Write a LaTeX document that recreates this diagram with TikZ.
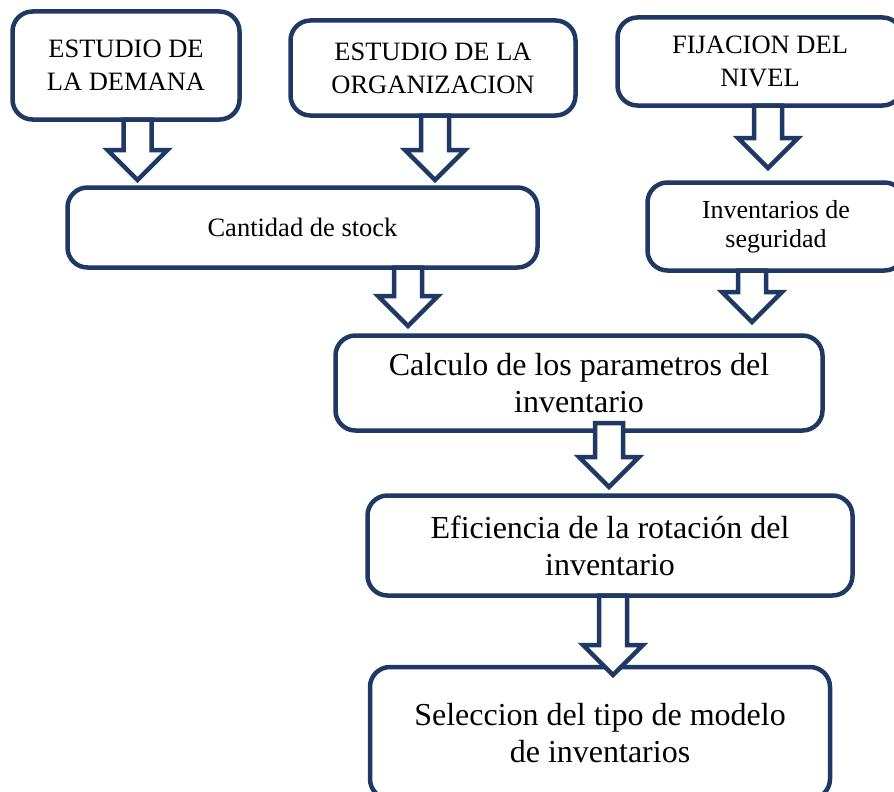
\documentclass[tikz,border=0pt]{standalone}
\usepackage{fontspec}
\setmainfont{Liberation Serif}
\usetikzlibrary{calc}
\definecolor{navy}{RGB}{31,56,100}
\tikzset{
    box/.style={draw=navy, line width=4.5pt, rounded corners=20pt, fill=white, align=center, inner sep=0pt, outer sep=0pt},
    smalltext/.style={font=\fontsize{26.5}{33}\selectfont},
    bigtext/.style={font=\fontsize{32}{37}\selectfont},
    blockarrow/.style={draw=navy, line width=4.5pt, fill=white, line join=miter,
        to path={let \p1=(\tikztostart), \p2=(\tikztotarget) in
            (\x1-14pt,\y1) -- (\x1-14pt,\y2+30pt) -- (\x1-30pt,\y2+30pt) -- (\x1,\y2)
            -- (\x1+30pt,\y2+30pt) -- (\x1+14pt,\y2+30pt) -- (\x1+14pt,\y1) -- cycle}}
}
\begin{document}
\begin{tikzpicture}[x=1pt,y=-1pt]
        \clip (0,0) rectangle (894,792);
        \node[box, smalltext, minimum width=227pt, minimum height=108pt] (demanda) at (126,65.5) {ESTUDIO DE\\LA DEMANA};
        \node[box, smalltext, minimum width=285pt, minimum height=95pt] (organizacion) at (433,68) {ESTUDIO DE LA\\ORGANIZACION};
        \node[box, smalltext, minimum width=285pt, minimum height=88pt] (nivel) at (760,61.5) {FIJACION DEL\\NIVEL};
        \node[box, smalltext, minimum width=470pt, minimum height=80pt] (stock) at (302.5,227.5) {Cantidad de stock};
        \node[box, font=\fontsize{26}{29}\selectfont, minimum width=257pt, minimum height=88pt] (seguridad) at (776,226.5) {Inventarios de\\seguridad};
        \node[box, bigtext, minimum width=487pt, minimum height=95pt] (calculo) at (579,383) {Calculo de los parametros del\\inventario};
        \node[box, bigtext, minimum width=485pt, minimum height=100pt] (rotacion) at (610,545.5) {Eficiencia de la rotación del\\inventario};
        \node[box, bigtext, minimum width=460pt, minimum height=132pt] (modelo) at (600,733) {Seleccion del tipo de modelo\\de inventarios};
        \draw[blockarrow] ([xshift=11.5pt]demanda.south) to ([yshift=7.5pt]stock.north);
        \draw[blockarrow] ([xshift=2pt]organizacion.south) to ([yshift=7.5pt]stock.north);
        \draw[blockarrow] ([xshift=8pt]nivel.south) to ([yshift=14.5pt]seguridad.north);
        \draw[blockarrow] ([xshift=105.5pt]stock.south) to ([yshift=9.5pt]calculo.north);
        \draw[blockarrow] ([xshift=-24pt]seguridad.south) to ([yshift=13.5pt]calculo.north);
        \draw[blockarrow] ([xshift=30pt,yshift=7.5pt]calculo.south) to ([yshift=8.5pt]rotacion.north);
        \draw[blockarrow] ([xshift=3pt]rotacion.south) to ([yshift=-8pt]modelo.north);
\end{tikzpicture}
\end{document}
